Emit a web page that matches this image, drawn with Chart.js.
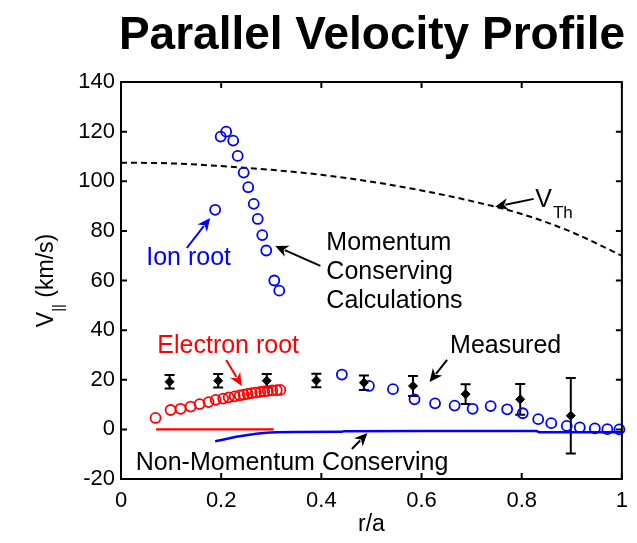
<!DOCTYPE html>
<html>
<head>
<meta charset="utf-8">
<title>Parallel Velocity Profile</title>
<script src="https://cdn.jsdelivr.net/npm/chart.js@4/dist/chart.umd.min.js"></script>
<style>
  html, body { margin: 0; padding: 0; background: #ffffff; }
  canvas { display: block; }
</style>
</head>
<body>
<canvas id="chart" width="637" height="543"></canvas>
<script>
// Axis ticks
const xTicks = [0, 0.2, 0.4, 0.6, 0.8, 1];
const yTicks = [-20, 0, 20, 40, 60, 80, 100, 120, 140];

// Thermal velocity V_Th (dashed)
const thermalR = [0, 0.1, 0.2, 0.3, 0.4, 0.5, 0.6, 0.7, 0.8, 0.9, 1.0];
const thermalV = [107.5, 107.2, 106.1, 104.6, 102.6, 99.8, 96.3, 92.0, 86.8, 79.5, 70.0];

// Momentum conserving calculation, ion root
const ionRootR = [0.188];
const ionRootV = [88.5];
const mcIonR = [0.199, 0.210, 0.224, 0.233, 0.245, 0.254, 0.265, 0.273, 0.282, 0.290, 0.306, 0.316];
const mcIonV = [118.0, 120.0, 116.4, 110.2, 103.5, 97.6, 90.9, 84.8, 78.3, 72.1, 60.0, 55.9];

// Momentum conserving calculation, electron root
const mcElecR = [0.069, 0.099, 0.119, 0.139, 0.157, 0.175, 0.189, 0.204, 0.215, 0.227, 0.237, 0.245,
                 0.253, 0.261, 0.269, 0.278, 0.286, 0.293, 0.302, 0.311, 0.318];
const mcElecV = [4.6, 7.8, 8.3, 9.2, 10.2, 11.0, 11.9, 12.4, 12.9, 13.3, 13.7, 14.0,
                 14.3, 14.6, 14.8, 15.1, 15.3, 15.5, 15.7, 15.8, 15.9];

// Momentum conserving calculation, outer region
const mcOuterR = [0.441, 0.495, 0.543, 0.586, 0.627, 0.666, 0.702, 0.738, 0.771, 0.802, 0.833,
                  0.859, 0.890, 0.916, 0.946, 0.971, 0.995];
const mcOuterV = [22.1, 17.5, 16.2, 12.1, 10.5, 9.6, 8.3, 9.4, 8.1, 6.5, 4.1,
                  2.5, 1.4, 0.8, 0.4, 0.1, 0.0];

// Non-momentum conserving calculation
const nmcElecR = [0.07, 0.305];
const nmcElecV = [0, 0];
const nmcIonR = [0.188, 0.21, 0.23, 0.25, 0.27, 0.29, 0.31, 0.35, 0.44, 0.445, 0.60, 0.83, 0.835, 1.0];
const nmcIonV = [-4.8, -3.9, -3.0, -2.4, -1.8, -1.4, -1.2, -1.1, -1.0, -0.8, -0.7, -0.7, -1.2, -1.2];

// Measured values with error bars
const measR = [0.097, 0.194, 0.291, 0.390, 0.485, 0.583, 0.688, 0.797, 0.898];
const measV = [19.2, 19.6, 19.6, 19.7, 18.8, 17.5, 14.2, 12.1, 5.5];
const measErr = [2.7, 2.7, 2.7, 2.7, 2.9, 4.0, 4.0, 6.2, 15.2];

const FONT = "'Liberation Sans', Arial, Helvetica, sans-serif";
const BLUE = '#0000ff';
const RED = '#ff0000';

const pts = (xs, ys) => xs.map((v, i) => ({ x: v, y: ys[i] }));

// Text labels with arrows, positioned in data coordinates
const labels = [
  { text: 'Ion root', x: 0.135, y: 69.1, color: BLUE, align: 'center' },
  { text: 'Momentum', x: 0.41, y: 75.2, color: '#000', align: 'left' },
  { text: 'Conserving', x: 0.41, y: 63.5, color: '#000', align: 'left' },
  { text: 'Calculations', x: 0.41, y: 51.8, color: '#000', align: 'left' },
  { text: 'Electron root', x: 0.0725, y: 33.6, color: RED, align: 'left' },
  { text: 'Measured', x: 0.657, y: 33.6, color: '#000', align: 'left' },
  { text: 'Non-Momentum Conserving', x: 0.0294, y: -13.5, color: '#000', align: 'left' }
];
const arrows = [
  { from: [0.1314, 73.1], to: [0.178, 85.2], color: BLUE },
  { from: [0.398, 65.9], to: [0.308, 73.9], color: '#000' },
  { from: [0.824, 92.9], to: [0.747, 89.7], color: '#000' },
  { from: [0.210, 28.0], to: [0.241, 17.5], color: RED },
  { from: [0.651, 28.0], to: [0.616, 19.1], color: '#000' },
  { from: [0.461, -7.9], to: [0.492, -1.5], color: '#000' }
];

const frameAndTitle = {
  id: 'frameAndTitle',
  beforeDatasetsDraw(chart) {
    const { ctx, scales: { x, y } } = chart;
    // error bars of the measured profile
    ctx.save();
    ctx.strokeStyle = '#000';
    ctx.lineWidth = 2;
    measR.forEach((r, i) => {
      const px = x.getPixelForValue(r);
      const top = y.getPixelForValue(measV[i] + measErr[i]);
      const bot = y.getPixelForValue(measV[i] - measErr[i]);
      ctx.beginPath();
      ctx.moveTo(px, top); ctx.lineTo(px, bot);
      ctx.moveTo(px - 5, top); ctx.lineTo(px + 5, top);
      ctx.moveTo(px - 5, bot); ctx.lineTo(px + 5, bot);
      ctx.stroke();
    });
    ctx.restore();
  },
  afterDatasetsDraw(chart) {
    const { ctx, chartArea: a, scales: { x, y } } = chart;
    ctx.save();
    // box and inward ticks
    ctx.strokeStyle = '#000';
    ctx.lineWidth = 2;
    ctx.strokeRect(a.left, a.top, a.right - a.left, a.bottom - a.top);
    ctx.beginPath();
    const tl = 6;
    xTicks.forEach(v => {
      const px = x.getPixelForValue(v);
      ctx.moveTo(px, a.bottom); ctx.lineTo(px, a.bottom - tl);
      ctx.moveTo(px, a.top); ctx.lineTo(px, a.top + tl);
    });
    yTicks.forEach(v => {
      const py = y.getPixelForValue(v);
      ctx.moveTo(a.left, py); ctx.lineTo(a.left + tl, py);
      ctx.moveTo(a.right, py); ctx.lineTo(a.right - tl, py);
    });
    ctx.stroke();

    // arrows
    arrows.forEach(ar => {
      const x0 = x.getPixelForValue(ar.from[0]), y0 = y.getPixelForValue(ar.from[1]);
      const x1 = x.getPixelForValue(ar.to[0]), y1 = y.getPixelForValue(ar.to[1]);
      const ang = Math.atan2(y1 - y0, x1 - x0);
      const hl = 13, hw = 6;
      ctx.strokeStyle = ar.color;
      ctx.fillStyle = ar.color;
      ctx.lineWidth = 2;
      ctx.beginPath();
      ctx.moveTo(x0, y0);
      ctx.lineTo(x1 - Math.cos(ang) * hl * 0.8, y1 - Math.sin(ang) * hl * 0.8);
      ctx.stroke();
      const bx = x1 - Math.cos(ang) * hl, by = y1 - Math.sin(ang) * hl;
      ctx.beginPath();
      ctx.moveTo(x1, y1);
      ctx.lineTo(bx - Math.sin(ang) * hw, by + Math.cos(ang) * hw);
      ctx.lineTo(x1 - Math.cos(ang) * hl * 0.7, y1 - Math.sin(ang) * hl * 0.7);
      ctx.lineTo(bx + Math.sin(ang) * hw, by - Math.cos(ang) * hw);
      ctx.closePath();
      ctx.fill();
    });

    // annotation texts
    ctx.font = '25px ' + FONT;
    ctx.textBaseline = 'middle';
    labels.forEach(l => {
      ctx.fillStyle = l.color;
      ctx.textAlign = l.align;
      ctx.fillText(l.text, x.getPixelForValue(l.x), y.getPixelForValue(l.y));
    });
    // V_Th label
    ctx.fillStyle = '#000';
    ctx.textAlign = 'left';
    const vx = x.getPixelForValue(0.827), vy = y.getPixelForValue(92.5);
    ctx.font = '25px ' + FONT;
    ctx.fillText('V', vx, vy);
    const vw = ctx.measureText('V').width;
    ctx.font = '17px ' + FONT;
    ctx.fillText('Th', vx + vw + 1, vy + 13);

    // axis titles
    ctx.font = '23px ' + FONT;
    ctx.textAlign = 'center';
    ctx.textBaseline = 'alphabetic';
    ctx.fillText('r/a', (a.left + a.right) / 2, 531);

    ctx.translate(53, (a.top + a.bottom) / 2);
    ctx.rotate(-Math.PI / 2);
    const main = '(km/s)';
    ctx.font = '23px ' + FONT;
    const wV = ctx.measureText('V').width;
    const wM = ctx.measureText(' ' + main).width;
    ctx.font = '15px ' + FONT;
    const wS = ctx.measureText('||').width;
    const total = wV + wS + wM;
    let cx = -total / 2;
    ctx.textAlign = 'left';
    ctx.font = '23px ' + FONT;
    ctx.fillText('V', cx, 0);
    cx += wV;
    ctx.font = '15px ' + FONT;
    ctx.fillText('||', cx, 10);
    cx += wS;
    ctx.font = '23px ' + FONT;
    ctx.fillText(' ' + main, cx, 0);
    ctx.restore();

    // title
    ctx.save();
    ctx.font = 'bold 46px ' + FONT;
    ctx.fillStyle = '#000';
    ctx.textAlign = 'center';
    ctx.textBaseline = 'alphabetic';
    ctx.fillText('Parallel Velocity Profile', 372, 49);
    ctx.restore();
  }
};

const circle = (color) => ({
  showLine: false,
  pointStyle: 'circle',
  pointRadius: 5,
  pointBorderWidth: 1.8,
  pointBorderColor: color,
  pointBackgroundColor: 'rgba(0,0,0,0)',
  clip: false
});

new Chart(document.getElementById('chart'), {
  type: 'scatter',
  data: {
    datasets: [
      { label: 'Measured', data: pts(measR, measV), showLine: false, pointStyle: 'rectRot',
        pointRadius: 4.5, pointBackgroundColor: '#000', pointBorderColor: '#000', pointBorderWidth: 1 },
      { label: 'Ion root', data: pts(ionRootR, ionRootV), ...circle(BLUE) },
      { label: 'Momentum conserving (ion root)', data: pts(mcIonR, mcIonV), ...circle(BLUE) },
      { label: 'Momentum conserving (electron root)', data: pts(mcElecR, mcElecV), ...circle(RED) },
      { label: 'Momentum conserving (outer)', data: pts(mcOuterR, mcOuterV), ...circle(BLUE) },
      { label: 'V_Th', data: pts(thermalR, thermalV), showLine: true, pointRadius: 0,
        borderColor: '#000', borderWidth: 2, borderDash: [6, 4], cubicInterpolationMode: 'monotone' },
      { label: 'Non-momentum conserving (electron root)', data: pts(nmcElecR, nmcElecV), showLine: true,
        pointRadius: 0, borderColor: RED, borderWidth: 2.2 },
      { label: 'Non-momentum conserving (ion root)', data: pts(nmcIonR, nmcIonV), showLine: true,
        pointRadius: 0, borderColor: BLUE, borderWidth: 2.5 }
    ]
  },
  options: {
    responsive: false,
    animation: false,
    events: [],
    layout: { padding: { top: 82, right: 6, bottom: 0, left: 0 } },
    plugins: { legend: { display: false }, tooltip: { enabled: false }, title: { display: false } },
    scales: {
      x: {
        type: 'linear', min: 0, max: 1,
        afterBuildTicks: s => { s.ticks = xTicks.map(v => ({ value: v })); },
        afterFit: s => { s.height = 64; },
        grid: { display: false, drawTicks: false },
        border: { display: false },
        ticks: { color: '#000', padding: 9, maxRotation: 0, autoSkip: false,
          font: { family: FONT, size: 22 }, callback: v => String(v) }
      },
      y: {
        type: 'linear', min: -20, max: 140,
        afterBuildTicks: s => { s.ticks = yTicks.map(v => ({ value: v })); },
        afterFit: s => { s.width = 121; },
        grid: { display: false, drawTicks: false },
        border: { display: false },
        ticks: { color: '#000', padding: 6, autoSkip: false,
          font: { family: FONT, size: 22 }, callback: v => String(v) }
      }
    }
  },
  plugins: [frameAndTitle]
});
</script>
</body>
</html>
